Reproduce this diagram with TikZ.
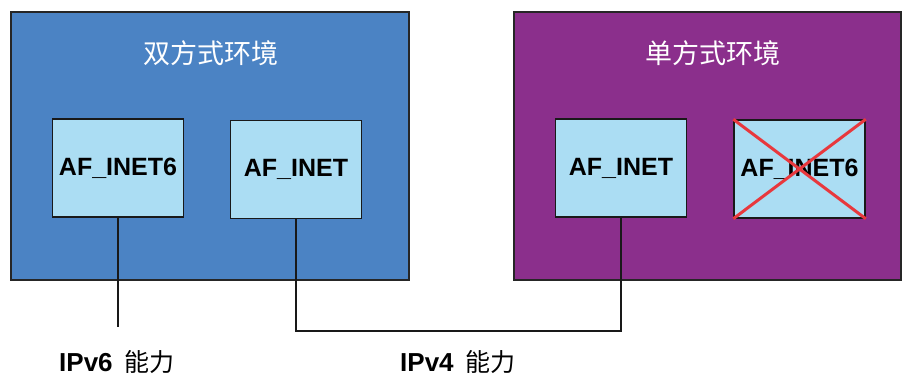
\documentclass[tikz,border=0pt]{standalone}
\usepackage{fontspec}
\setmainfont{Liberation Sans}
\newfontfamily\cjk{Noto Sans CJK SC}
\definecolor{dualblue}{HTML}{4B83C4}
\definecolor{singlepurple}{HTML}{8B2F8C}
\definecolor{afblue}{HTML}{ABDDF3}
\definecolor{crossred}{HTML}{E8383D}
\begin{document}
\begin{tikzpicture}[x=1pt,y=-1pt,
  envbox/.style={draw=black!85,line width=1.5pt,inner sep=0pt},
  afbox/.style={draw=black!90,line width=1.5pt,fill=afblue,inner sep=0pt,
    minimum width=131pt,minimum height=98pt,font=\fontsize{25}{28}\selectfont\bfseries},
  envtitle/.style={text=white,font=\fontsize{27}{30}\selectfont\cjk,inner sep=0pt},
  caplabel/.style={font=\fontsize{26}{30}\selectfont,inner sep=0pt,anchor=base west},
  wire/.style={draw=black!90,line width=1.6pt}]
\useasboundingbox (0,0) rectangle (902,375);
\node[envbox,fill=dualblue,minimum width=398pt,minimum height=268pt] (dual) at (210,146) {};
\node[envbox,fill=singlepurple,minimum width=387pt,minimum height=268pt] (single) at (707.5,146) {};
\node[envtitle] (dualt) at (211,53) {双方式环境};
\node[envtitle] (singlet) at (713,53) {单方式环境};
\node[afbox] (a6) at (118,168) {AF\_INET6};
\node[afbox] (a4) at (296,169.5) {AF\_INET};
\node[afbox] (b4) at (621,168) {AF\_INET};
\node[afbox] (b6) at (799.5,169) {AF\_INET6};
\draw[crossred,line width=3pt] (b6.north west) -- (b6.south east);
\draw[crossred,line width=3pt] (b6.north east) -- (b6.south west);
\coordinate (v6end) at (118,327);
\coordinate (v4low) at (296,331);
\draw[wire] (a6.south) -- (a6.south |- v6end);
\draw[wire] (a4.south) -- (v4low) -| (b4.south);
\node[caplabel] (ipv6) at (59,371) {\textbf{IPv6}\hspace{12pt}{\cjk\fontsize{25}{30}\selectfont 能力}};
\node[caplabel] (ipv4) at (400,371) {\textbf{IPv4}\hspace{12pt}{\cjk\fontsize{25}{30}\selectfont 能力}};
\end{tikzpicture}
\end{document}
